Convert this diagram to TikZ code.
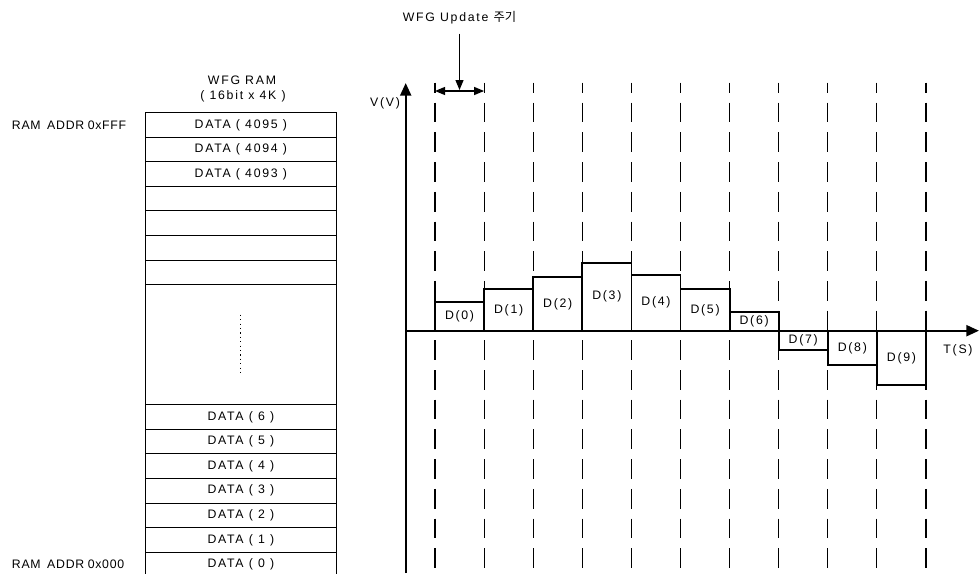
\documentclass[tikz,border=0pt]{standalone}
\usepackage{fontspec}
\setmainfont{Liberation Sans}[LetterSpace=14]
\newfontfamily\kr{Noto Sans CJK KR}
\newfontfamily\addrfont{Liberation Sans}[LetterSpace=6]
\usetikzlibrary{arrows.meta}
\tikzset{
  txt/.style={inner sep=0pt, font=\fontsize{12.3}{14}\selectfont},
  addr/.style={txt, anchor=west, font=\addrfont\fontsize{12.3}{14}\selectfont},
  cell/.style={draw, line width=1pt, minimum width=191.7pt, minimum height=24.57pt, txt},
  bar/.style={draw, line width=1.8pt, minimum width=49.1pt, txt},
  grid/.style={line width=1.1pt, dash pattern=on 19.7pt off 10pt, dash phase=9.7pt},
  axis/.style={line width=2.2pt, -{Triangle[length=12.7pt,width=11pt]}}
}
\begin{document}
\begin{tikzpicture}[x=1pt, y=-1pt, >={Triangle[length=10pt,width=8pt]}]
\useasboundingbox (0,0) rectangle (979,573);

% RAM table
\node[txt] (ram) at (242,80) {WFG RAM};
\node[txt] (size) at (243,96) {( 16bit x 4K )};
\foreach \k/\t in {0/{DATA ( 4095 )},1/{DATA ( 4094 )},2/{DATA ( 4093 )},3/{},4/{},5/{},6/{}}
  \node[cell] (top\k) at (240.85,125+24.57*\k) {\t};
\node[cell, minimum height=120pt] (gap) at (240.85,344.7) {};
\draw[line width=1.2pt, dash pattern=on 1.2pt off 3.2pt] ([yshift=30pt]gap.center) -- ([yshift=-30pt]gap.center);
\foreach \k in {0,...,6}
  \node[cell] (data\k) at (240.85,564.5-24.57*\k) {DATA ( \k{} )};
\node[addr] (hi) at (11.7,125) {RAM\hspace{6.5pt}ADDR\hspace{3.5pt}0xFFF};
\node[addr] (lo) at (11.7,564.5) {RAM\hspace{6.5pt}ADDR\hspace{3.5pt}0x000};

% update period grid
\foreach \i in {0,...,10} {
  \coordinate (g\i) at (435+49.1*\i,82.7);
  \coordinate (h\i) at (435+49.1*\i,573);
  \draw[grid] (g\i) -- (h\i);
}

% samples
\foreach \i/\h in {0/29,1/41.4,2/53.4,3/68,4/56,5/41.4,6/19,7/-19.3,8/-34.6,9/-54.3}
  \node[bar, minimum height={abs(\h)*1pt}] (d\i) at (459.55+49.1*\i,330.7-\h/2) {D(\i)};

% axes
\coordinate (o) at (405.7,330.7);
\coordinate (vb) at (405.7,573);
\coordinate (vy) at (405.7,83);
\coordinate (tx) at (979,330.7);
\draw[axis] (vb) -- (vy);
\draw[axis] (o) -- (tx);
\node[txt] (vl) at (385,103) {V(V)};
\node[txt] (tl) at (958,350) {T(S)};

% update period
\node[txt] (upd) at (459.5,18) {WFG Update {\kr 주기}};
\coordinate (m) at (459.5,90);
\coordinate (u0) at (435,91);
\coordinate (u1) at (484.1,91);
\draw[->, line width=1.2pt, shorten <=9pt] (upd) -- (m);
\draw[<->, line width=1.2pt] (u0) -- (u1);
\end{tikzpicture}
\end{document}
